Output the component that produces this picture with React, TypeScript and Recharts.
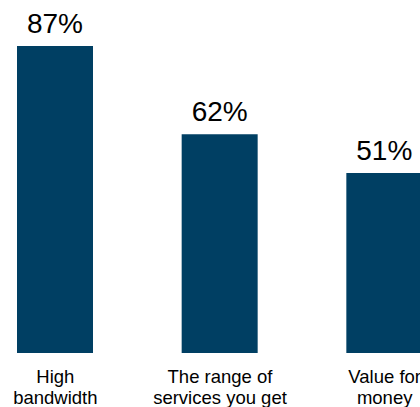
import React from "react";
import { BarChart, Bar, XAxis, YAxis, LabelList } from "recharts";

const categories = ["High bandwidth", "The range of services you get", "Value for money"];
const tickLines = [
  ["High", "bandwidth"],
  ["The range of", "services you get"],
  ["Value for", "money"],
];
const shares = [87, 62, 51];

const data = categories.map((name, i) => ({ name, value: shares[i], lines: tickLines[i] }));

const TwoLineTick = (props: any) => {
  const { x, y, index } = props;
  const lines = tickLines[index] || [];
  return (
    <text
      x={x}
      y={y}
      textAnchor="middle"
      fill="#000"
      fontSize={18.5}
      fontFamily="'Liberation Sans', Arial, sans-serif"
    >
      {lines.map((l, i) => (
        <tspan key={i} x={x} y={y + 30 + i * 21}>
          {l}
        </tspan>
      ))}
    </text>
  );
};

export default function App() {
  return (
    <div
      style={{
        position: "fixed",
        left: 0,
        top: 0,
        width: 420,
        height: 407,
        overflow: "hidden",
        background: "#fff",
      }}
    >
      <div style={{ position: "absolute", left: -27, top: 0 }}>
        <BarChart
          width={494}
          height={407}
          data={data}
          margin={{ top: 0, right: 0, bottom: 0, left: 0 }}
          barSize={76}
        >
          <XAxis
            dataKey="name"
            axisLine={false}
            tickLine={false}
            tickSize={0}
            tickMargin={0}
            height={54}
            interval={0}
            tick={<TwoLineTick />}
          />
          <YAxis hide domain={[0, 100]} />
          <Bar dataKey="value" fill="#003f63" isAnimationActive={false}>
            <LabelList
              dataKey="value"
              position="top"
              offset={13}
              formatter={(v: any) => `${v}%`}
              fill="#000"
              fontSize={28}
              fontFamily="'Liberation Sans', Arial, sans-serif"
            />
          </Bar>
        </BarChart>
      </div>
    </div>
  );
}
